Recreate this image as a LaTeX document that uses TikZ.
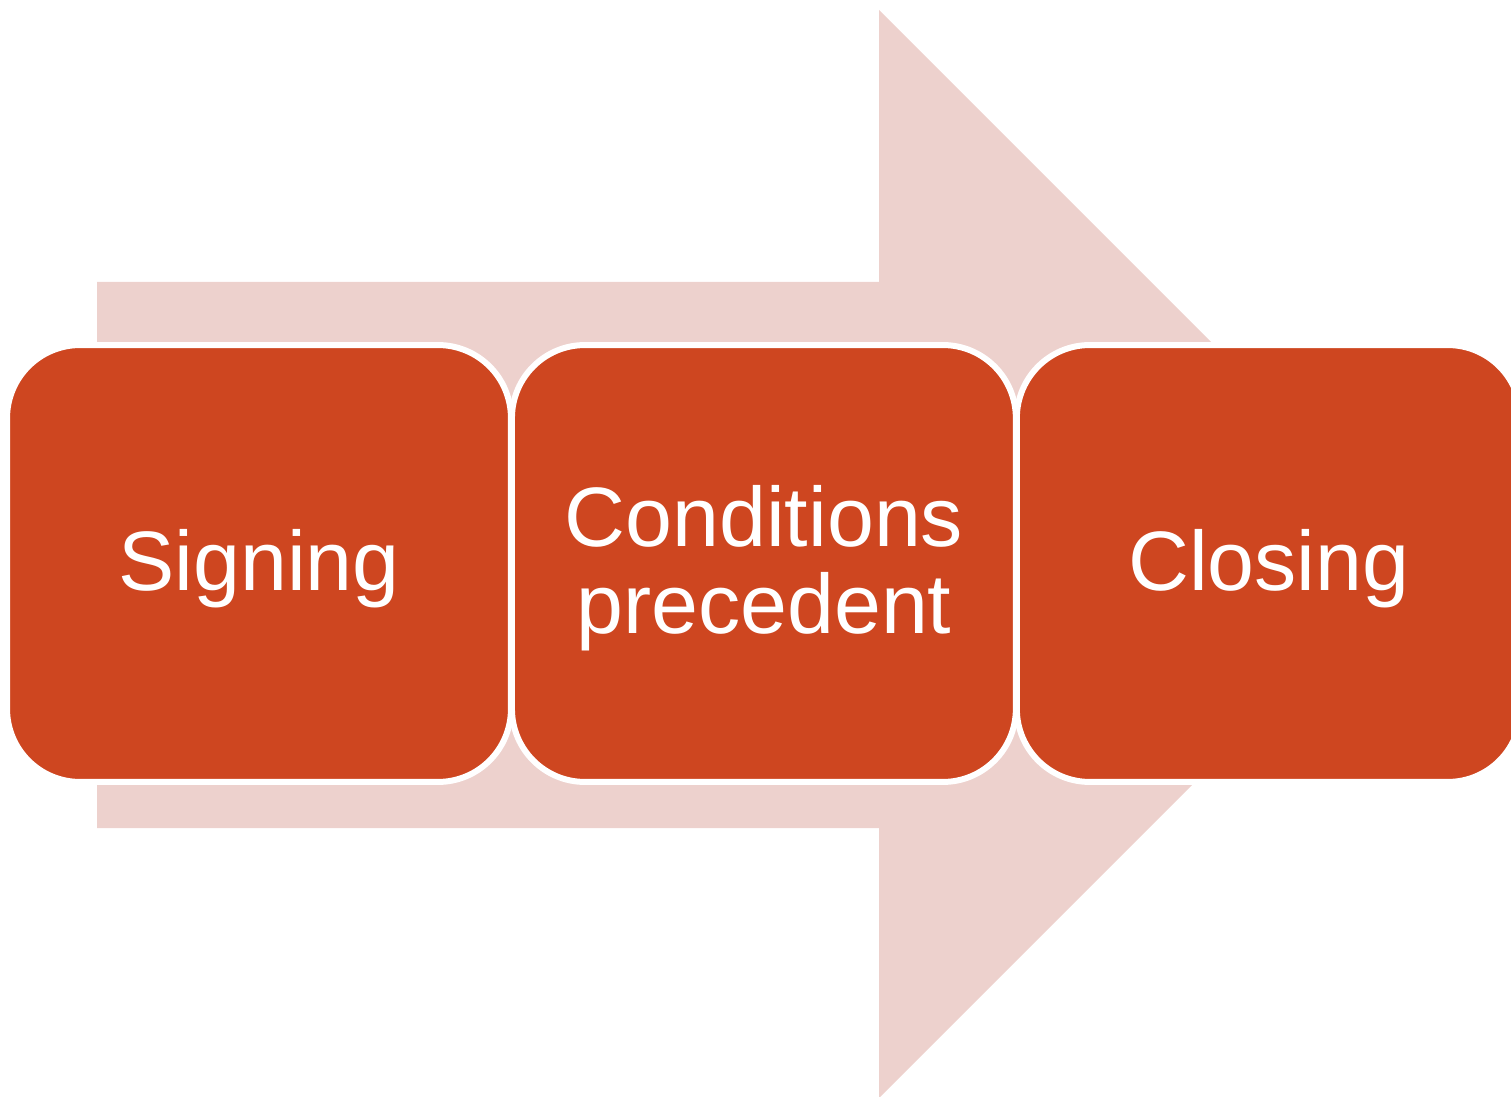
\documentclass[tikz,border=0pt]{standalone}
\usepackage{fontspec}
\setmainfont{Liberation Sans}
\usetikzlibrary{positioning}

\definecolor{rojoCaja}{RGB}{206,70,32}
\definecolor{rosaFlecha}{RGB}{237,209,205}

\tikzset{
    caja/.style={draw=white, line width=0.12cm, fill=rojoCaja, rounded corners=1.46cm,
        minimum width=10.08cm, minimum height=8.74cm, outer sep=0pt, text depth=4.5pt,
        text=white, align=center, font=\fontsize{48}{49.5}\selectfont}
}

\begin{document}
\begin{tikzpicture}[x=0.02cm, y=-0.02cm]
    % Marco
    \clip (0,0) rectangle (1511,1097);
    \useasboundingbox (0,0) rectangle (1511,1097);

    % Flecha de fondo
    \fill[rosaFlecha] (97,282) -- (879,282) -- (879,10) -- (1423,554)
        -- (879,1098) -- (879,828) -- (97,828) -- cycle;

    % Cajas
    \node[caja] (signing) at (259,563.5) {Signing};
    \node[caja, right=0.02cm of signing] (conditions) {Conditions\\precedent};
    \node[caja, right=0.02cm of conditions] (closing) {Closing};
\end{tikzpicture}
\end{document}
